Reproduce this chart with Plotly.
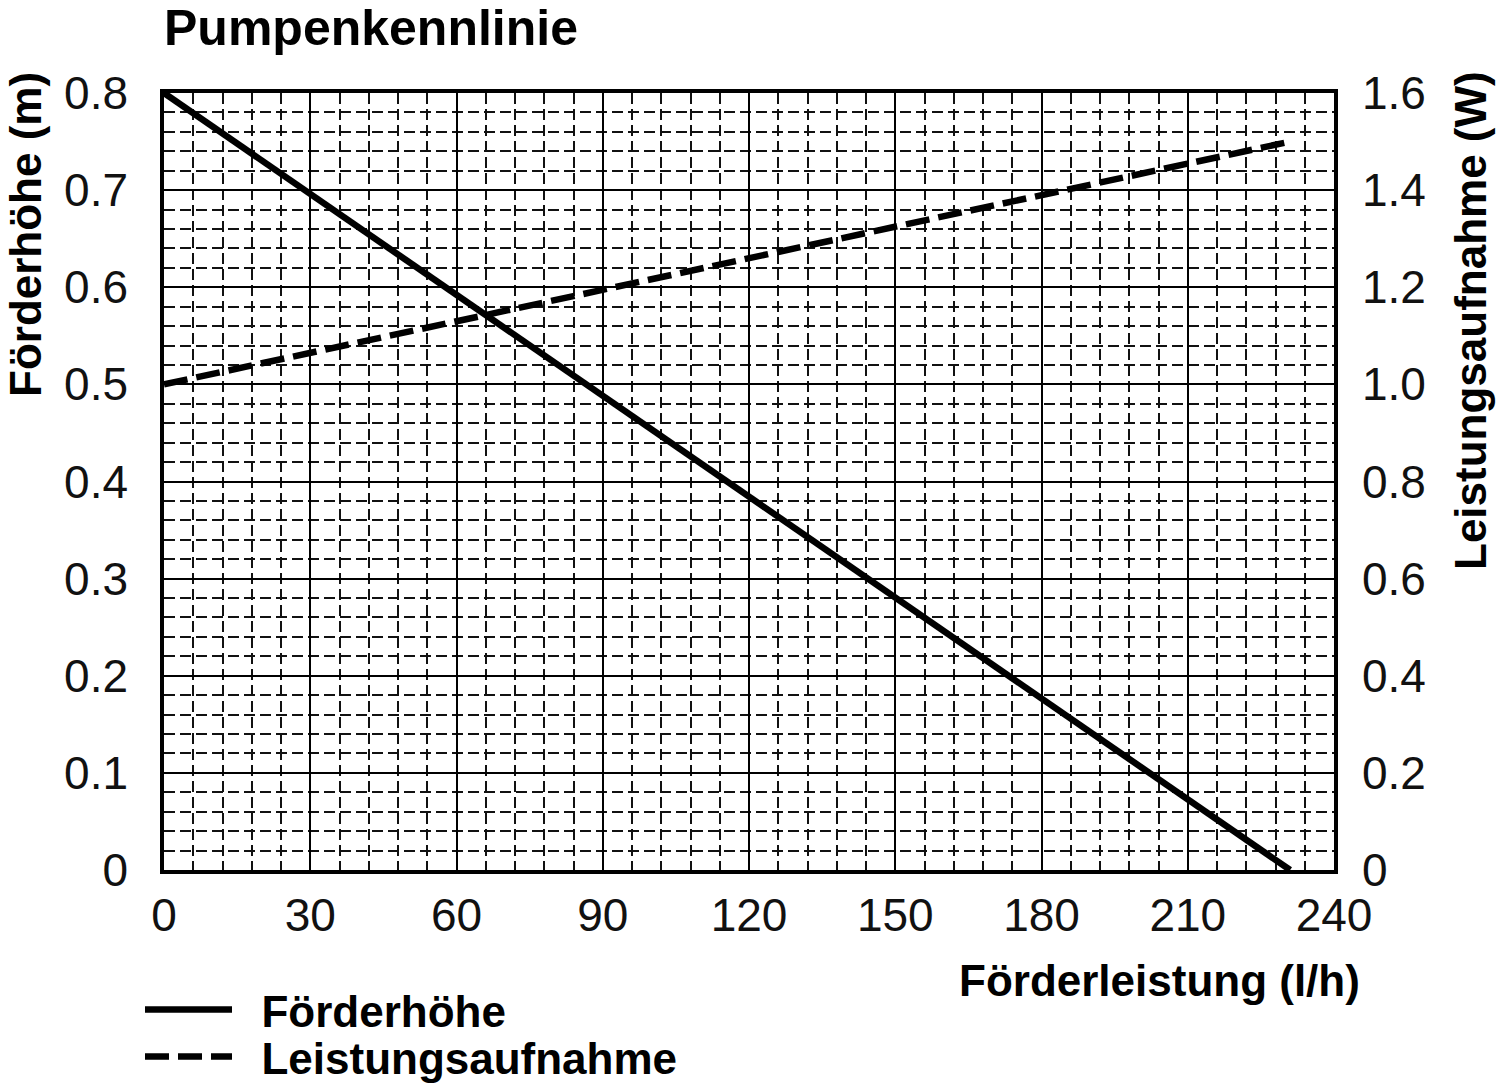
import plotly.graph_objects as go

# Data
flow = [0, 30, 60, 90, 120, 150, 180, 210, 231]
head = [0.8, 0.696, 0.592, 0.488, 0.384, 0.281, 0.177, 0.073, 0.0]
power_flow = [0, 60, 90, 120, 150, 180, 231]
power = [1.0, 1.13, 1.195, 1.26, 1.325, 1.39, 1.5]

x_ticks = [0, 30, 60, 90, 120, 150, 180, 210, 240]
y_ticks = [0, 0.1, 0.2, 0.3, 0.4, 0.5, 0.6, 0.7, 0.8]
y_ticktext = ["0", "0.1", "0.2", "0.3", "0.4", "0.5", "0.6", "0.7", "0.8"]
y2_ticks = [0, 0.2, 0.4, 0.6, 0.8, 1.0, 1.2, 1.4, 1.6]
y2_ticktext = ["0", "0.2", "0.4", "0.6", "0.8", "1.0", "1.2", "1.4", "1.6"]

title_text = "Pumpenkennlinie"
x_title = "Förderleistung (l/h)"
y_title = "Förderhöhe (m)"
y2_title = "Leistungsaufnahme (W)"
name_head = "Förderhöhe"
name_power = "Leistungsaufnahme"

SANS = "Liberation Sans, Arial, sans-serif"
TICKFONT = dict(family=SANS, size=46, color="#111")
BOLDFONT = dict(family=SANS, size=44, color="black")
NBSP = "\u00a0\u00a0"

fig = go.Figure()
fig.add_trace(go.Scatter(x=flow, y=head, mode="lines", name="<b>" + NBSP + name_head + "</b>",
                         legend="legend",
                         line=dict(color="black", width=6.5)))
fig.add_trace(go.Scatter(x=power_flow, y=power, mode="lines",
                         name="<b>" + NBSP + name_power + "</b>",
                         yaxis="y2", legend="legend2",
                         line=dict(color="black", width=6.5, dash="24px,9px")))

leg_common = dict(xanchor="left", yanchor="middle", font=BOLDFONT, itemwidth=87,
                  bgcolor="rgba(0,0,0,0)", borderwidth=0)

fig.update_layout(
    width=1500, height=1089,
    margin=dict(l=164, r=166, t=93, b=219, autoexpand=False),
    plot_bgcolor="white", paper_bgcolor="white",
    title=dict(text="<b>" + title_text + "</b>", x=0, xref="paper", xanchor="left",
               y=1 - 27 / 1089, yref="container", yanchor="middle",
               font=dict(family=SANS, size=50, color="black")),
    xaxis=dict(range=[0, 240], tickvals=x_ticks, showgrid=True, gridcolor="black", gridwidth=2,
               showline=True, linecolor="black", linewidth=3.5, mirror=True, zeroline=False,
               ticks="", tickfont=TICKFONT, ticklabelstandoff=2,
               minor=dict(dtick=6, showgrid=True, gridcolor="#111", gridwidth=1.7, griddash="11px,5px"),
               fixedrange=True),
    yaxis=dict(range=[0, 0.8], tickvals=y_ticks, ticktext=y_ticktext, showgrid=True,
               gridcolor="black", gridwidth=2, showline=True, linecolor="black", linewidth=3.5,
               mirror=True, zeroline=False, ticks="", tickfont=TICKFONT, ticklabelstandoff=23,
               minor=dict(dtick=0.02, showgrid=True, gridcolor="#111", gridwidth=1.7, griddash="11px,5px")),
    yaxis2=dict(range=[0, 1.6], tickvals=y2_ticks, ticktext=y2_ticktext, overlaying="y",
                side="right", showgrid=False, zeroline=False, showline=False, ticks="",
                tickfont=TICKFONT, ticklabelstandoff=27),
    showlegend=True,
    legend=dict(x=(140 - 164) / 1170, y=(870 - 1010) / 777, **leg_common),
    legend2=dict(x=(140 - 164) / 1170, y=(870 - 1057) / 777, **leg_common),
    annotations=[
        dict(text="<b>" + x_title + "</b>", xref="paper", yref="paper",
             x=(1362 - 164) / 1170, y=(870 - 980) / 777, xanchor="right", yanchor="middle",
             showarrow=False, font=BOLDFONT),
        dict(text="<b>" + y_title + "</b>", xref="paper", yref="paper", textangle=-90,
             x=(25 - 164) / 1170, y=(870 - 235) / 777, xanchor="center", yanchor="middle",
             showarrow=False, font=BOLDFONT),
        dict(text="<b>" + y2_title + "</b>", xref="paper", yref="paper", textangle=-90,
             x=(1470 - 164) / 1170, y=(870 - 321) / 777, xanchor="center", yanchor="middle",
             showarrow=False, font=BOLDFONT),
    ],
)

fig.write_html("out.html")
